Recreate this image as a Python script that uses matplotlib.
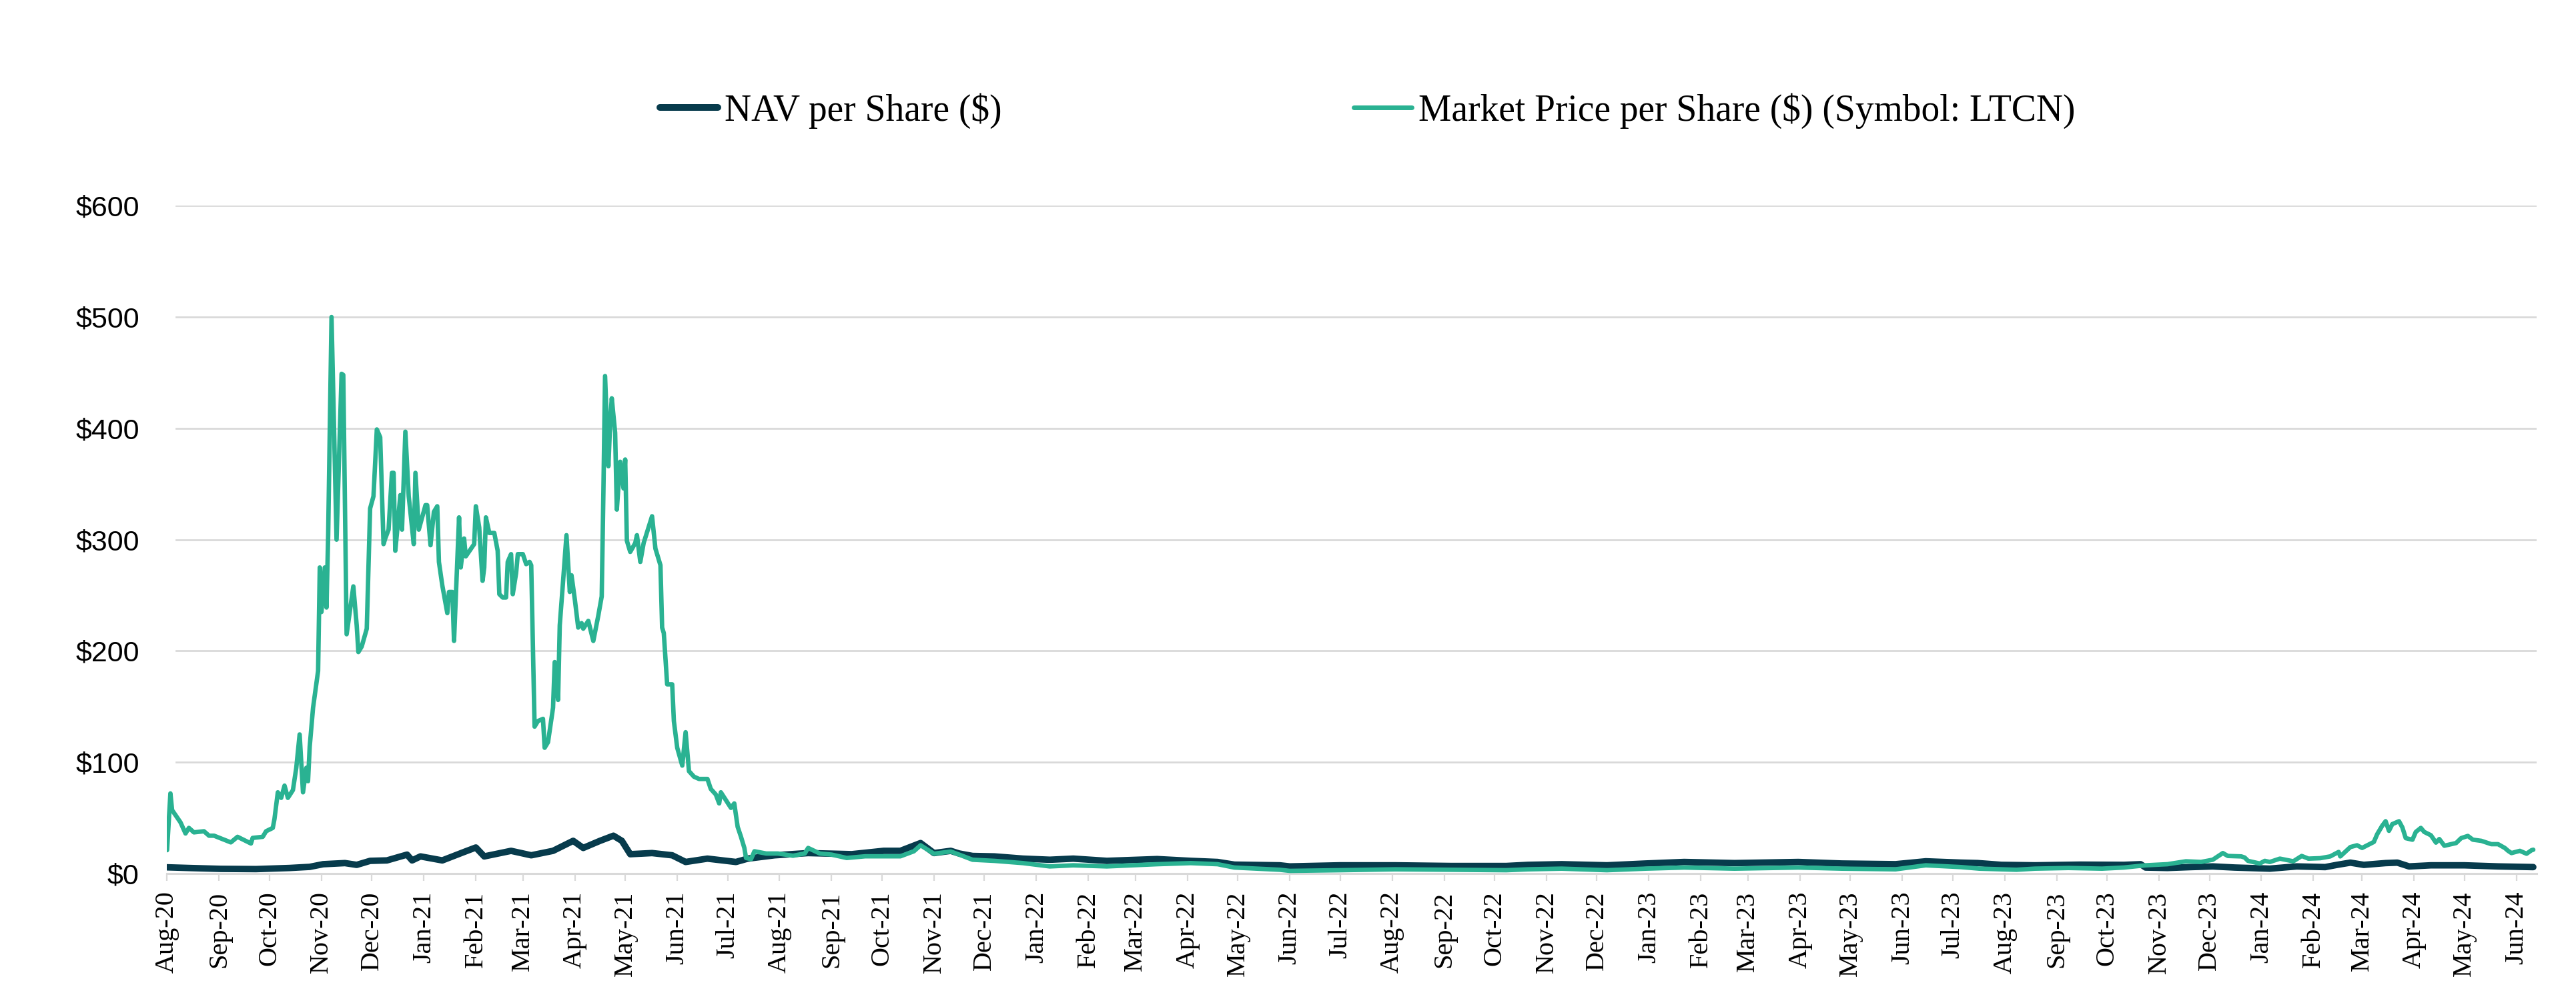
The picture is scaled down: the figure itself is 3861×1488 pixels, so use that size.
import matplotlib
matplotlib.use("Agg")
import matplotlib.pyplot as plt
import pandas as pd

# ---------------- data ----------------
market_dates = [
    "2020-08-18", "2020-08-20", "2020-08-21", "2020-08-26", "2020-08-29", "2020-08-31",
    "2020-09-03", "2020-09-09", "2020-09-12", "2020-09-15", "2020-09-20", "2020-09-25",
    "2020-09-29", "2020-10-03", "2020-10-07", "2020-10-08", "2020-10-14", "2020-10-16",
    "2020-10-20", "2020-10-21", "2020-10-23", "2020-10-25", "2020-10-27", "2020-10-29",
    "2020-11-01", "2020-11-03", "2020-11-05", "2020-11-07", "2020-11-09", "2020-11-10",
    "2020-11-11", "2020-11-13", "2020-11-16", "2020-11-17", "2020-11-18", "2020-11-20",
    "2020-11-21", "2020-11-22", "2020-11-24", "2020-11-27", "2020-11-30", "2020-12-01",
    "2020-12-03", "2020-12-07", "2020-12-09", "2020-12-10", "2020-12-12", "2020-12-15",
    "2020-12-17", "2020-12-19", "2020-12-21", "2020-12-23", "2020-12-25", "2020-12-26",
    "2020-12-28", "2020-12-30", "2020-12-31", "2021-01-01", "2021-01-02", "2021-01-04",
    "2021-01-05", "2021-01-07", "2021-01-09", "2021-01-10", "2021-01-12", "2021-01-13",
    "2021-01-15", "2021-01-19", "2021-01-20", "2021-01-22", "2021-01-24", "2021-01-26",
    "2021-01-27", "2021-01-29", "2021-02-01", "2021-02-02", "2021-02-04", "2021-02-05",
    "2021-02-08", "2021-02-09", "2021-02-11", "2021-02-12", "2021-02-17", "2021-02-18",
    "2021-02-20", "2021-02-22", "2021-02-23", "2021-02-24", "2021-02-26", "2021-03-01",
    "2021-03-03", "2021-03-04", "2021-03-06", "2021-03-08", "2021-03-09", "2021-03-11",
    "2021-03-12", "2021-03-14", "2021-03-15", "2021-03-18", "2021-03-20", "2021-03-22",
    "2021-03-23", "2021-03-25", "2021-03-27", "2021-03-30", "2021-03-31", "2021-04-02",
    "2021-04-05", "2021-04-06", "2021-04-08", "2021-04-09", "2021-04-11", "2021-04-13",
    "2021-04-15", "2021-04-16", "2021-04-18", "2021-04-20", "2021-04-22", "2021-04-23",
    "2021-04-26", "2021-04-29", "2021-05-02", "2021-05-04", "2021-05-05", "2021-05-06",
    "2021-05-08", "2021-05-09", "2021-05-10", "2021-05-12", "2021-05-13", "2021-05-15",
    "2021-05-17", "2021-05-18", "2021-05-19", "2021-05-21", "2021-05-24", "2021-05-25",
    "2021-05-27", "2021-05-29", "2021-06-03", "2021-06-05", "2021-06-08", "2021-06-09",
    "2021-06-10", "2021-06-12", "2021-06-15", "2021-06-16", "2021-06-18", "2021-06-21",
    "2021-06-23", "2021-06-25", "2021-06-28", "2021-07-01", "2021-07-06", "2021-07-08",
    "2021-07-11", "2021-07-13", "2021-07-14", "2021-07-17", "2021-07-20", "2021-07-22",
    "2021-07-24", "2021-07-26", "2021-07-28", "2021-07-29", "2021-08-01", "2021-08-03",
    "2021-08-10", "2021-08-17", "2021-08-26", "2021-09-02", "2021-09-04", "2021-09-11",
    "2021-09-18", "2021-09-27", "2021-10-08", "2021-10-19", "2021-10-29", "2021-11-06",
    "2021-11-10", "2021-11-18", "2021-11-28", "2021-12-03", "2021-12-11", "2021-12-24",
    "2022-01-10", "2022-01-26", "2022-02-09", "2022-03-01", "2022-03-31", "2022-04-20",
    "2022-05-06", "2022-05-16", "2022-06-12", "2022-06-18", "2022-07-18", "2022-08-20",
    "2022-09-22", "2022-10-25", "2022-11-07", "2022-11-27", "2022-12-24", "2023-01-16",
    "2023-02-08", "2023-03-10", "2023-04-17", "2023-05-13", "2023-06-14", "2023-07-02",
    "2023-07-23", "2023-08-03", "2023-08-16", "2023-08-25", "2023-09-05", "2023-09-25",
    "2023-10-15", "2023-10-28", "2023-11-10", "2023-11-23", "2023-12-04", "2023-12-13",
    "2023-12-20", "2023-12-26", "2023-12-29", "2024-01-06", "2024-01-08", "2024-01-10",
    "2024-01-17", "2024-01-20", "2024-01-23", "2024-01-29", "2024-02-06", "2024-02-11",
    "2024-02-15", "2024-02-22", "2024-02-28", "2024-03-04", "2024-03-05", "2024-03-11",
    "2024-03-15", "2024-03-18", "2024-03-25", "2024-03-27", "2024-03-30", "2024-04-01",
    "2024-04-03", "2024-04-05", "2024-04-09", "2024-04-11", "2024-04-13", "2024-04-17",
    "2024-04-19", "2024-04-22", "2024-04-24", "2024-04-28", "2024-05-01", "2024-05-03",
    "2024-05-06", "2024-05-10", "2024-05-13", "2024-05-16", "2024-05-20", "2024-05-23",
    "2024-05-28", "2024-06-03", "2024-06-07", "2024-06-11", "2024-06-13", "2024-06-15",
    "2024-06-20", "2024-06-24", "2024-06-27", "2024-06-28",
]
market_values = [
    21, 72, 57, 46, 36, 41,
    37, 38, 34, 34, 31, 28,
    33, 30, 27, 32, 33, 38,
    41, 49, 73, 68, 79, 68,
    75, 95, 125, 73, 95, 83,
    114, 149, 182, 275, 235, 275,
    239, 304, 500, 300, 449, 448,
    215, 258, 223, 199, 204, 220,
    328, 339, 399, 392, 296, 301,
    309, 360, 360, 290, 306, 340,
    309, 397, 339, 325, 296, 360,
    309, 331, 331, 295, 325, 330,
    280, 259, 234, 253, 253, 209,
    320, 275, 301, 285, 296, 330,
    311, 263, 275, 320, 306, 306,
    290, 251, 248, 248, 280, 287,
    251, 270, 287, 287, 278, 280,
    277, 132, 137, 139, 113, 118,
    149, 190, 156, 223, 263, 304,
    253, 268, 246, 221, 225, 220,
    227, 209, 232, 249, 342, 447,
    366, 404, 427, 396, 327, 370,
    346, 372, 299, 289, 297, 304,
    280, 297, 321, 292, 277, 221,
    216, 170, 170, 137, 113, 97,
    127, 92, 87, 85, 85, 76,
    71, 63, 73, 66, 59, 63,
    42, 33, 23, 14, 13, 20,
    18, 18, 16, 18, 23, 18,
    17, 14, 15.5, 15.5, 15.5, 20,
    25.4, 17.8, 19.8, 17, 12.4, 11.4,
    9.4, 6.4, 7.4, 6.4, 8.4, 9.4,
    8.4, 5.4, 3.4, 2.4, 3.0, 3.8,
    3.4, 3.0, 3.8, 4.4, 3.0, 4.4,
    5.4, 4.4, 5.4, 4.4, 3.8, 7.4,
    5.8, 4.4, 3.8, 3.4, 4.4, 5.0,
    4.4, 5.4, 7.4, 8.4, 11.0, 10.4,
    12.4, 18.4, 15.8, 15.4, 14.4, 11.4,
    9.0, 11.4, 10.4, 13.4, 11.0, 15.8,
    13.4, 13.8, 15.4, 19.4, 15.4, 23.8,
    25.4, 23.0, 28.4, 35.4, 43.0, 47.0,
    38.4, 44.4, 47.0, 41.4, 31.8, 30.4,
    37.4, 41.0, 37.4, 34.4, 27.8, 31.0,
    25.0, 26.4, 27.4, 31.8, 33.8, 30.4,
    29.4, 26.4, 26.4, 23.0, 20.4, 18.4,
    20.4, 17.8, 21.0, 21.4,
]

nav_dates = [
    "2020-08-18", "2020-08-31", "2020-09-19", "2020-10-10", "2020-10-30", "2020-11-11",
    "2020-11-19", "2020-12-02", "2020-12-09", "2020-12-17", "2020-12-27", "2021-01-08",
    "2021-01-11", "2021-01-16", "2021-01-29", "2021-02-11", "2021-02-18", "2021-02-23",
    "2021-03-11", "2021-03-23", "2021-04-05", "2021-04-17", "2021-04-23", "2021-05-03",
    "2021-05-11", "2021-05-16", "2021-05-21", "2021-06-03", "2021-06-15", "2021-06-23",
    "2021-07-06", "2021-07-23", "2021-07-30", "2021-08-15", "2021-09-04", "2021-09-30",
    "2021-10-19", "2021-10-29", "2021-11-10", "2021-11-18", "2021-11-28", "2021-12-03",
    "2021-12-11", "2021-12-24", "2022-01-10", "2022-01-26", "2022-02-09", "2022-03-01",
    "2022-03-31", "2022-04-20", "2022-05-06", "2022-05-16", "2022-06-12", "2022-06-18",
    "2022-07-18", "2022-08-20", "2022-09-22", "2022-10-25", "2022-11-07", "2022-11-27",
    "2022-12-24", "2023-01-16", "2023-02-08", "2023-03-10", "2023-04-17", "2023-05-13",
    "2023-06-14", "2023-07-02", "2023-07-23", "2023-08-02", "2023-08-16", "2023-09-05",
    "2023-10-02", "2023-10-28", "2023-11-07", "2023-11-10", "2023-11-23", "2023-12-07",
    "2023-12-20", "2024-01-02", "2024-01-23", "2024-02-08", "2024-02-25", "2024-03-03",
    "2024-03-11", "2024-03-19", "2024-04-01", "2024-04-08", "2024-04-15", "2024-04-28",
    "2024-05-18", "2024-06-07", "2024-06-28",
]
nav_values = [
    5.6, 5.0, 4.2, 4.0, 5.0, 6.0,
    8.4, 9.4, 7.8, 11.4, 11.8, 17.0,
    11.8, 15.4, 11.8, 19.4, 23.4, 15.4,
    20.4, 16.4, 20.4, 29.4, 23.0, 29.4,
    34.0, 29.4, 17.4, 18.4, 16.4, 10.4,
    13.4, 10.4, 13.4, 16.4, 18.4, 17.4,
    20.4, 20.4, 27.4, 18.4, 20.4, 18.0,
    15.8, 15.4, 13.4, 12.4, 13.4, 11.4,
    13.0, 11.4, 10.4, 8.0, 7.4, 6.4,
    7.4, 7.4, 6.8, 6.8, 7.8, 8.4,
    7.4, 9.0, 10.4, 9.4, 10.4, 9.0,
    8.4, 11.0, 9.8, 9.4, 7.8, 7.4,
    8.0, 7.8, 8.4, 5.4, 5.0, 5.8,
    6.4, 5.4, 4.4, 6.4, 5.8, 7.8,
    9.8, 7.8, 9.4, 9.8, 6.4, 7.4,
    7.4, 6.4, 5.8,
]

y_ticks = [0, 100, 200, 300, 400, 500, 600]
y_tick_labels = ["$0", "$100", "$200", "$300", "$400", "$500", "$600"]
x_start, x_end = "2020-08-18", "2024-06-30"
series_names = ["NAV per Share ($)", "Market Price per Share ($) (Symbol: LTCN)"]

# ---------------- styling ----------------
NAV_COLOR = "#073B4C"
MKT_COLOR = "#2AB292"
GRID_COLOR = "#D9D9D9"
SERIF = ["Liberation Serif", "DejaVu Serif"]
SANS = ["Liberation Sans", "DejaVu Sans"]

W, H = 3862, 1488
fig = plt.figure(figsize=(W / 100, H / 100), dpi=100)
ax_left, ax_right = 250.4 / W, 3802 / W
ax_bottom, ax_top = 1 - 1309 / H, 1 - 308.3 / H
ax = fig.add_axes([ax_left, ax_bottom, ax_right - ax_left, ax_top - ax_bottom])

nav_x = pd.to_datetime(nav_dates)
mkt_x = pd.to_datetime(market_dates)

l_nav, = ax.plot(nav_x, nav_values, color=NAV_COLOR, lw=7.0,
                 solid_joinstyle="round", solid_capstyle="round", zorder=3,
                 label=series_names[0])
l_mkt, = ax.plot(mkt_x, market_values, color=MKT_COLOR, lw=4.8,
                 solid_joinstyle="round", solid_capstyle="round", zorder=4,
                 label=series_names[1])

ax.set_xlim(pd.Timestamp(x_start), pd.Timestamp(x_end))
ax.set_ylim(0, 600)

# horizontal gridlines (start slightly right of the axis start, as in reference)
grid_start = (264 - 250.4) / (3802 - 250.4)
for yv in y_ticks[1:]:
    ax.axhline(yv, xmin=grid_start, xmax=1, color=GRID_COLOR, lw=2.0, zorder=1)

# y axis
ax.set_yticks(y_ticks)
ax.set_yticklabels(y_tick_labels, fontfamily=SANS, fontsize=31)
ax.tick_params(axis="y", length=0, pad=30, labelcolor="black")

# x axis: monthly ticks on the 18th
xticks = pd.date_range(x_start, "2024-06-18", freq=pd.DateOffset(months=1))
ax.set_xticks(xticks)
ax.set_xticklabels([d.strftime("%b-%y") for d in xticks], rotation=90,
                   fontfamily=SERIF, fontsize=29, ha="center", va="top")
ax.tick_params(axis="x", length=8, width=1.6, color=GRID_COLOR, pad=11,
               labelcolor="black")

for s in ["top", "left", "right"]:
    ax.spines[s].set_visible(False)
ax.spines["bottom"].set_color(GRID_COLOR)
ax.spines["bottom"].set_linewidth(2.2)
ax.spines["bottom"].set_zorder(2)

# legend
leg = fig.legend(handles=[l_nav, l_mkt], loc="center",
                 bbox_to_anchor=(2050 / W, 1 - 166 / H), ncol=2, frameon=False,
                 prop={"family": SERIF, "size": 40}, handlelength=1.56,
                 handletextpad=0.18, columnspacing=9.5, borderpad=0)
for lh, lw in zip(leg.get_lines(), [7.2, 5.0]):
    lh.set_linewidth(lw)
    lh.set_solid_capstyle("round")

fig.savefig("out.png", dpi=100)
